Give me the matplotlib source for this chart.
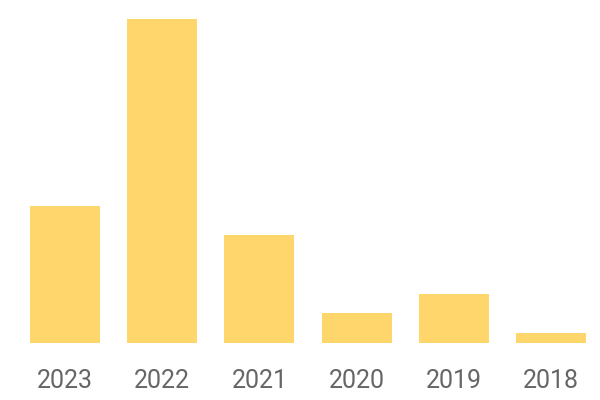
import matplotlib.pyplot as plt

years = ["2023", "2022", "2021", "2020", "2019", "2018"]
values = [137, 324, 108, 30, 49, 10]

bar_color = "#FFD66B"
label_color = "#666666"

fig = plt.figure(figsize=(6, 4), dpi=100)
ax = fig.add_axes([16.4 / 600, 57 / 400, (600 - 16.4 - 0.4) / 600, (343 - 19) / 400])

ax.bar(range(len(years)), values, width=0.72, color=bar_color)
ax.set_xlim(-0.5, len(years) - 0.5)
ax.set_ylim(0, 324)

ax.set_xticks(range(len(years)))
ax.set_xticklabels(years, fontsize=18, color=label_color, family="Roboto")
ax.tick_params(axis="x", length=0, pad=18.5)
ax.set_yticks([])
for s in ax.spines.values():
    s.set_visible(False)

fig.savefig("out.png", dpi=100)
